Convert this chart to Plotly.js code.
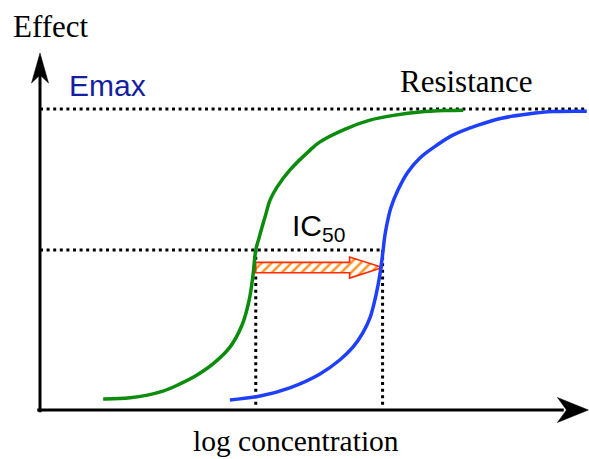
<!DOCTYPE html>
<html><head><meta charset="utf-8">
<script src="https://cdn.plot.ly/plotly-3.0.1.min.js"></script>
<style>html,body{margin:0;padding:0;background:#fff}</style>
</head><body><div id="chart" style="width:589px;height:459px"></div>
<script>
// Sensitive (green) concentration-effect curve
const sensitiveX = [1.15,1.64,2.24,2.55,2.86,3.15,3.46,3.68,3.81,3.88,3.93,3.99,4.04,4.10,4.19,4.32,4.55,4.92,5.10,5.56,6.01,6.47,6.92,7.38,7.71];
const sensitiveY = [3.1,3.4,5.3,7.3,9.8,12.9,17.6,23.8,30.8,37.8,44.8,48.2,51.0,54.1,58.8,62.5,67.2,72.8,75.1,78.7,81.2,82.6,83.5,83.9,84.0];
// Resistant (blue) concentration-effect curve
const resistantX = [3.46,4.01,4.55,5.10,5.46,5.70,5.88,6.01,6.12,6.19,6.25,6.28,6.32,6.39,6.52,6.69,6.92,7.21,7.52,7.98,8.43,8.89,9.34,9.96];
const resistantY = [2.8,3.9,6.2,10.1,14.0,17.6,21.6,25.8,32.2,37.8,44.8,48.7,52.1,56.6,61.6,66.4,70.6,74.0,77.0,79.8,81.8,82.9,83.6,83.7];

const emax = 84.3;
const emaxLineEnd = 9.93;
const halfEffect = 44.8;
const ic50Sensitive = 3.93;
const ic50Resistant = 6.24;
const shiftArrowLevel = 39.9;
const axisXMax = 9.99;
const axisYMax = 100;

const labels = {
  yTitle: 'Effect',
  xTitle: 'log concentration',
  emax: 'Emax',
  resistance: 'Resistance',
  ic50: 'IC<sub>50</sub>'
};

const dotted = {color: '#000', width: 3, dash: '3px,3.6px'};

// shift arrow polygon built from the IC50 values
const bodyHalf = 1.46, headHalf = 2.94, headLen = 0.6;
const headStart = ic50Resistant - headLen;
const arrowX = [ic50Sensitive, headStart, headStart, ic50Resistant, headStart, headStart, ic50Sensitive, ic50Sensitive];
const arrowY = [shiftArrowLevel + bodyHalf, shiftArrowLevel + bodyHalf, shiftArrowLevel + headHalf, shiftArrowLevel,
                shiftArrowLevel - headHalf, shiftArrowLevel - bodyHalf, shiftArrowLevel - bodyHalf, shiftArrowLevel + bodyHalf];

const traces = [
  {x: [0, emaxLineEnd], y: [emax, emax], mode: 'lines', line: dotted, hoverinfo: 'skip'},
  {x: [0, ic50Resistant], y: [halfEffect, halfEffect], mode: 'lines', line: dotted, hoverinfo: 'skip'},
  {x: [ic50Sensitive, ic50Sensitive], y: [halfEffect, 1.2], mode: 'lines', line: dotted, hoverinfo: 'skip'},
  {x: [ic50Resistant, ic50Resistant], y: [halfEffect, 1.2], mode: 'lines', line: dotted, hoverinfo: 'skip'},
  {x: arrowX, y: arrowY, mode: 'lines', fill: 'toself', fillcolor: '#ffffff',
   fillpattern: {shape: '/', bgcolor: '#ffffff', fgcolor: '#ff9020', size: 7, solidity: 0.35},
   line: {color: '#ff2a00', width: 1.6}, hoverinfo: 'skip'},
  {x: sensitiveX, y: sensitiveY, mode: 'lines', line: {color: '#0c8c0c', width: 3.5, shape: 'spline', smoothing: 1}},
  {x: resistantX, y: resistantY, mode: 'lines', line: {color: '#1f3fff', width: 3.5, shape: 'spline', smoothing: 1}}
];

const serif = 'Liberation Serif, Times New Roman, serif';
const sans = 'Liberation Sans, Arial, sans-serif';

const layout = {
  width: 589, height: 459,
  margin: {l: 0, r: 0, t: 0, b: 0},
  showlegend: false,
  paper_bgcolor: '#fff', plot_bgcolor: '#fff',
  xaxis: {range: [-0.7286, 10.0], visible: false, fixedrange: true},
  yaxis: {range: [-13.73, 114.85], visible: false, fixedrange: true},
  shapes: [
    {type: 'line', xref: 'x', yref: 'y', x0: -0.05, y0: 0, x1: axisXMax - 0.45, y1: 0, line: {color: '#000', width: 3}},
    {type: 'line', xref: 'x', yref: 'y', x0: 0, y0: -0.6, x1: 0, y1: axisYMax - 6, line: {color: '#000', width: 3}},
    {type: 'path', xref: 'x', yref: 'y', xsizemode: 'pixel', ysizemode: 'pixel', xanchor: axisXMax, yanchor: 0,
     path: 'M0,0L-31,12.5L-22,0L-31,-12.5Z', fillcolor: '#000', line: {color: '#000', width: 0.5}},
    {type: 'path', xref: 'x', yref: 'y', xsizemode: 'pixel', ysizemode: 'pixel', xanchor: 0, yanchor: axisYMax,
     path: 'M0,0L-8.5,-30L0,-22L8.5,-30Z', fillcolor: '#000', line: {color: '#000', width: 0.5}}
  ],
  annotations: [
    {x: 0.0187, y: 0.9418, xref: 'paper', yref: 'paper', xanchor: 'left', yanchor: 'middle', showarrow: false,
     text: labels.yTitle, font: {family: serif, size: 31, color: '#000'}},
    {x: 0.5025, y: 0.0, xref: 'paper', yref: 'paper', xanchor: 'center', yanchor: 'bottom', showarrow: false,
     text: labels.xTitle, font: {family: serif, size: 29.5, color: '#000'}},
    {x: 0.50, y: 91.0, xref: 'x', yref: 'y', xanchor: 'left', yanchor: 'middle', showarrow: false,
     text: labels.emax, font: {family: sans, size: 30, color: '#141ea0'}},
    {x: 6.52, y: 92.0, xref: 'x', yref: 'y', xanchor: 'left', yanchor: 'middle', showarrow: false,
     text: labels.resistance, font: {family: serif, size: 31, color: '#000'}},
    {x: 4.55, y: 51.1, xref: 'x', yref: 'y', xanchor: 'left', yanchor: 'middle', showarrow: false,
     text: labels.ic50, font: {family: sans, size: 30, color: '#000'}}
  ]
};

Plotly.newPlot('chart', traces, layout, {displayModeBar: false, staticPlot: true});
</script></body></html>
